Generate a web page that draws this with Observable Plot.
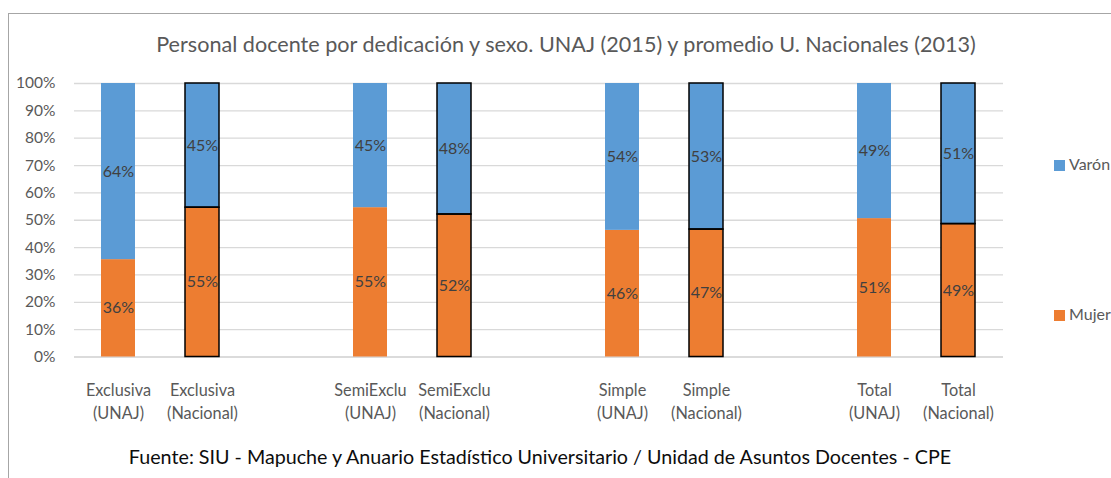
<!DOCTYPE html>
<html>
<head>
<meta charset="utf-8">
<script src="https://cdn.jsdelivr.net/npm/d3@7"></script>
<script src="https://cdn.jsdelivr.net/npm/@observablehq/plot@0.6"></script>
<style>
  html, body { margin: 0; padding: 0; background: #fff; overflow: hidden; }
  #wrap { position: relative; width: 1111px; height: 478px; overflow: hidden; font-family: Lato, "Open Sans", sans-serif; }
  #frame { position: absolute; left: 8px; top: 13px; width: 1300px; height: 700px; border: 1.5px solid #a6a6a6; box-sizing: border-box; }
  #chart { position: absolute; left: 0; top: 0; }
  #title { position: absolute; left: 0; width: 1132px; top: 34px; text-align: center; font-size: 21.6px; line-height: 21.6px; color: #595959; white-space: nowrap; }
  #caption { position: absolute; left: 0; width: 1080px; top: 447px; text-align: center; font-size: 19.7px; line-height: 19.7px; color: #0d0d0d; white-space: nowrap; }
  .leg { position: absolute; left: 1054px; font-size: 16px; line-height: 16px; color: #595959; white-space: nowrap; }
  .leg span { display: inline-block; width: 11px; height: 11px; margin-right: 4px; vertical-align: -1px; }
</style>
</head>
<body>
<div id="wrap">
  <div id="frame"></div>
  <div id="chart"></div>
  <div id="title"></div>
  <div id="caption"></div>
  <div class="leg" id="legV" style="top:156px"></div>
  <div class="leg" id="legM" style="top:306px"></div>
</div>
<script>
const titleText = "Personal docente por dedicación y sexo. UNAJ (2015) y promedio U. Nacionales (2013)";
const captionText = "Fuente: SIU - Mapuche y Anuario Estadístico Universitario / Unidad de Asuntos Docentes - CPE";

const categories = [
  "Exclusiva\n(UNAJ)", "Exclusiva\n(Nacional)",
  "SemiExclu\n(UNAJ)", "SemiExclu\n(Nacional)",
  "Simple\n(UNAJ)", "Simple\n(Nacional)",
  "Total\n(UNAJ)", "Total\n(Nacional)"
];
// slot order on the x axis, with empty slots between groups
const xSlots = [
  "Exclusiva\n(UNAJ)", "Exclusiva\n(Nacional)", "gap1",
  "SemiExclu\n(UNAJ)", "SemiExclu\n(Nacional)", "gap2",
  "Simple\n(UNAJ)", "Simple\n(Nacional)", "gap3",
  "Total\n(UNAJ)", "Total\n(Nacional)"
];
const series = ["Mujer", "Varón"];
const mujer = [35.6, 54.6, 54.6, 52.1, 46.3, 46.6, 50.6, 48.6];
const varon = [64.4, 45.4, 45.4, 47.9, 53.7, 53.4, 49.4, 51.4];
const colors = {"Varón": "#5b9bd5", "Mujer": "#ed7d31"};
const yTicks = [0, 10, 20, 30, 40, 50, 60, 70, 80, 90, 100];

const data = [];
categories.forEach((c, i) => {
  data.push({cat: c, sexo: "Mujer", value: mujer[i], nac: c.includes("Nacional")});
  data.push({cat: c, sexo: "Varón", value: varon[i], nac: c.includes("Nacional")});
});
const nacData = data.filter(d => d.nac);

document.getElementById("title").textContent = titleText;
document.getElementById("caption").textContent = captionText;
document.getElementById("legV").innerHTML = `<span style="background:${colors["Varón"]}"></span>Varón`;
document.getElementById("legM").innerHTML = `<span style="background:${colors["Mujer"]}"></span>Mujer`;

const chart = Plot.plot({
  width: 1111,
  height: 478,
  marginLeft: 74,
  marginRight: 108,
  marginTop: 83,
  marginBottom: 121.5,
  style: {background: "transparent", fontFamily: "Lato, 'Open Sans', sans-serif", fontSize: "15.5px"},
  x: {domain: xSlots, paddingInner: 0.59, paddingOuter: 0.295, axis: null},
  y: {domain: [0, 100], axis: null},
  color: {domain: ["Varón", "Mujer"], range: [colors["Varón"], colors["Mujer"]]},
  marks: [
    Plot.gridY(yTicks.filter(t => t > 0), {stroke: "#d9d9d9", strokeOpacity: 1, strokeWidth: 1.3}),
    Plot.ruleY([0], {stroke: "#cfcfcf", strokeWidth: 1.3}),
    Plot.axisY({ticks: yTicks, tickFormat: d => d + "%", tickSize: 0, tickPadding: 19, color: "#595959", fontSize: 15.5, label: null}),
    Plot.axisX({ticks: categories, tickFormat: d => d, tickSize: 0, tickPadding: 22, color: "#595959", fontSize: 16.3, lineHeight: 1.45, label: null}),
    Plot.barY(data, Plot.stackY({x: "cat", y: "value", z: "sexo", fill: "sexo"})),
    Plot.barY(nacData, Plot.stackY({x: "cat", y: "value", z: "sexo", fill: "none", stroke: "#000", strokeWidth: 1.5})),
    Plot.text(data, Plot.stackY({x: "cat", y: "value", z: "sexo", text: d => Math.round(d.value) + "%", fill: "#404040", fontSize: 16}))
  ]
});
document.getElementById("chart").appendChild(chart);
</script>
</body>
</html>
